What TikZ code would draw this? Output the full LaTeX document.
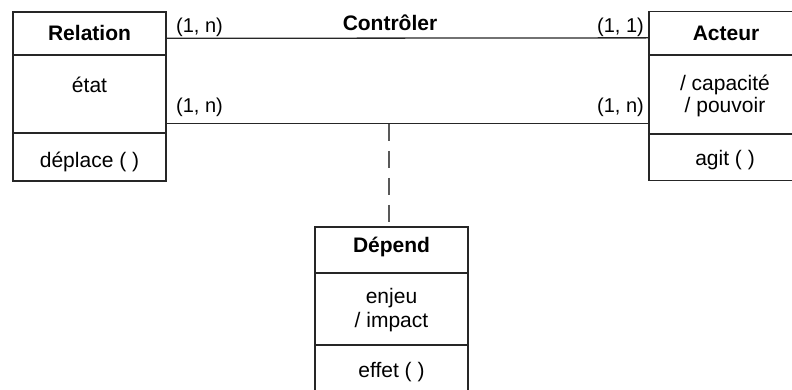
\documentclass[tikz,border=0pt]{standalone}
\usepackage{fontspec}
\setmainfont{Liberation Sans}
\usetikzlibrary{calc}
\begin{document}
\begin{tikzpicture}[x=1pt,y=-1pt,
  box/.style={draw=black!85,line width=1.3pt,rectangle,inner sep=0pt,minimum width=153pt},
  divider/.style={draw=black!85,line width=1.3pt},
  conn/.style={draw=black!85,line width=1.3pt},
  dep/.style={draw=black!65,line width=1.4pt,dash pattern=on 17pt off 10pt},
  txt/.style={inner sep=0pt,font=\fontsize{21}{25}\selectfont},
  ltxt/.style={inner sep=0pt,font=\fontsize{20}{24}\selectfont},
  btxt/.style={inner sep=0pt,font=\fontsize{21}{25}\selectfont\bfseries}]
\useasboundingbox (0,0) rectangle (792,390);
\clip (0,0) rectangle (792,390);
% boxes
\node[box,minimum height=169pt] (rel) at (89.5,96.5) {};
\node[box,minimum height=169pt] (act) at (725.5,96) {};
\node[box,minimum height=200pt] (dep) at (391.5,327) {};
% dividers
\draw[divider] (rel.west |- 0,55) -- (rel.east |- 0,55);
\draw[divider] (rel.west |- 0,133) -- (rel.east |- 0,133);
\draw[divider] (act.west |- 0,55) -- (act.east |- 0,55);
\draw[divider] (act.west |- 0,134) -- (act.east |- 0,134);
\draw[divider] (dep.west |- 0,273) -- (dep.east |- 0,273);
\draw[divider] (dep.west |- 0,345) -- (dep.east |- 0,345);
% texts
\node[btxt] (relT) at (89.5,33) {Relation};
\node[txt] (relA) at (89.5,85) {état};
\node[txt] (relM) at (89.5,162) {déplace ( )};
\node[btxt] (actT) at (726,33) {Acteur};
\node[txt] (actA1) at (725,85) {/ capacité};
\node[txt] (actA2) at (725,107) {/ pouvoir};
\node[txt] (actM) at (725,160) {agit ( )};
\node[btxt] (depT) at (391.5,247) {Dépend};
\node[txt] (depA1) at (391.5,298) {enjeu};
\node[txt] (depA2) at (391.5,322) {/ impact};
\node[txt] (depM) at (391.5,372) {effet ( )};
% connectors
\coordinate (r1) at ($(rel.north east)+(0,27)$);
\coordinate (a1) at ($(act.north west)+(0,27)$);
\coordinate (r2) at ($(rel.north east)+(0,112)$);
\coordinate (a2) at ($(act.north west)+(0,112.5)$);
\draw[conn] (r1) -- (a1);
\draw[conn] (r2) -- (a2);
\coordinate (d2) at (389,124);
\draw[dep] (d2) -- (dep.north -| d2);
% labels
\node[btxt] (ctl) at (390,23) {Contrôler};
\node[ltxt,anchor=west] (c1) at (176,27) {(1, n)};
\node[ltxt,anchor=west] (c2) at (176,107) {(1, n)};
\node[ltxt,anchor=east] (c3) at (644,27) {(1, 1)};
\node[ltxt,anchor=east] (c4) at (644,107) {(1, n)};
\end{tikzpicture}
\end{document}
